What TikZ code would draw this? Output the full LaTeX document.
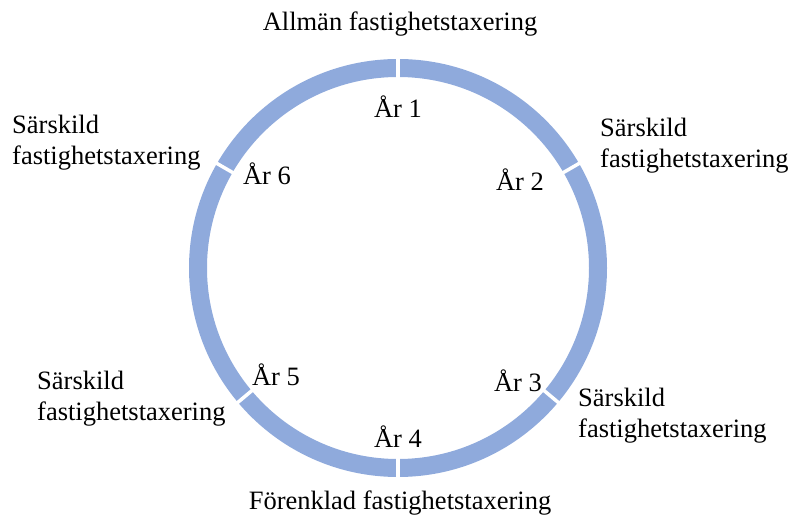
\documentclass[tikz,border=0pt]{standalone}
\usepackage{fontspec}
\setmainfont{Liberation Serif}
\usetikzlibrary{calc,positioning}
\definecolor{ringblue}{HTML}{8FAADC}
\tikzset{cut/.style={draw=white, line width=3.5pt},
  yr/.style={font=\fontsize{26.5}{31}\selectfont, inner sep=0pt},
  tax/.style={font=\fontsize{26.5}{31}\selectfont, align=left, inner sep=0pt, anchor=west}}

\begin{document}
\begin{tikzpicture}[x=1pt,y=-1pt]
  \useasboundingbox (0,0) rectangle (790,518);
  \coordinate (c) at (398,268);
  % ring cut into six years
  \draw[ringblue, line width=18pt] (c) circle[radius=200pt];
  \foreach \a in {90,30,-40,-90,-140,150}
    \draw[cut] ($(c)+(\a:186pt)$) -- ($(c)+(\a:214pt)$);
  \node[yr] (ar1) at (398,107) {År 1};
  \node[yr] (ar2) at (520,180) {År 2};
  \node[yr] (ar3) at (518,381) {År 3};
  \node[yr] (ar4) at (398,437) {År 4};
  \node[yr] (ar5) at (276,375) {År 5};
  \node[yr] (ar6) at (267,174) {År 6};
  \node[yr] (allm) at (400,24) {Allmän fastighetstaxering};
  \node[yr] (forenk) at (400,503) {Förenklad fastighetstaxering};
  \node[tax] (sars2) at (600,146) {Särskild\\fastighetstaxering};
  \node[tax] (sars3) at (578,416) {Särskild\\fastighetstaxering};
  \node[tax] (sars5) at (37,399) {Särskild\\fastighetstaxering};
  \node[tax] (sars6) at (12,143) {Särskild\\fastighetstaxering};
\end{tikzpicture}
\end{document}
